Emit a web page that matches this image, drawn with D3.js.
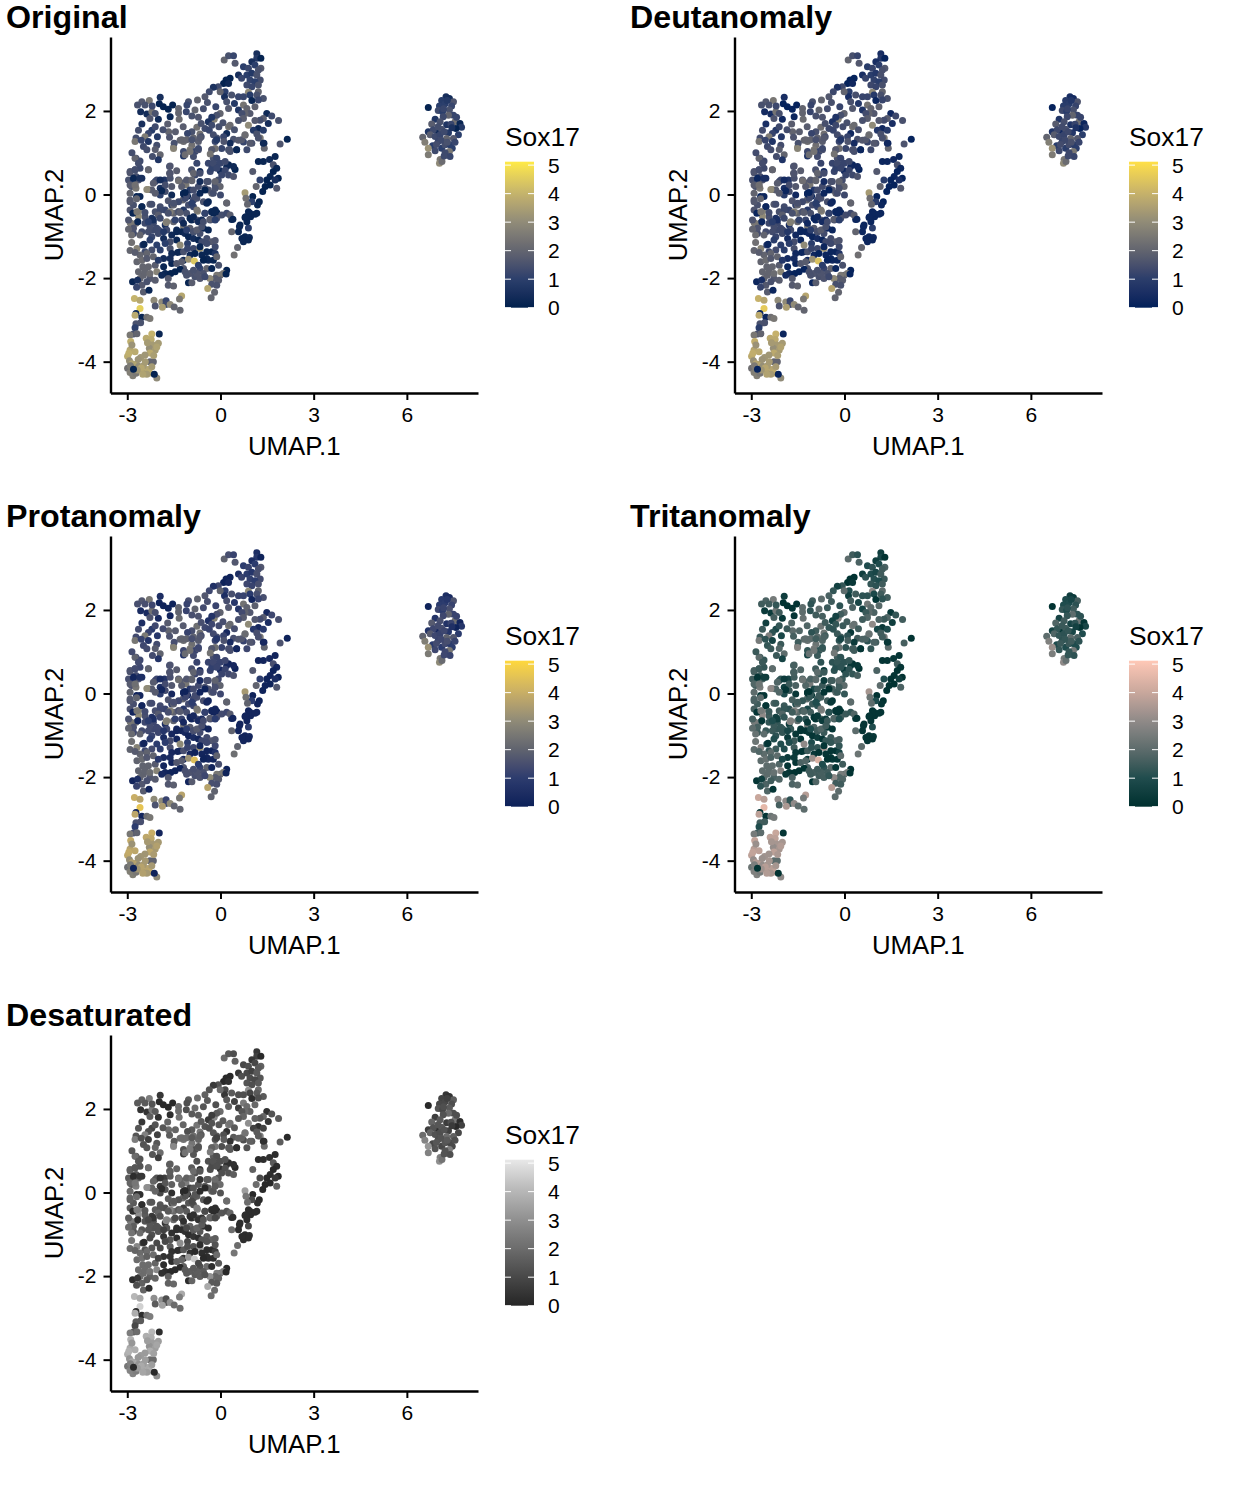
<!DOCTYPE html>
<html><head><meta charset="utf-8">
<script src="https://cdn.jsdelivr.net/npm/d3@7"></script>
<style>html,body{margin:0;padding:0;background:#fff}svg{display:block}text{font-family:"Liberation Sans",Arial,sans-serif;fill:#000}</style>
</head><body><svg id="c" width="1248" height="1497"></svg>
<script>
// cells: [UMAP.1, UMAP.2, Sox17]
const cellsTop=[[0.12,3.22,2],[0.26,3.32,1.5],[0.42,3.32,1.2],[0.47,3.14,1.7],[1.17,3.37,.5],[1.17,3.26,.8],[1.30,3.26,.1],[1.01,3.18,.5],[1.11,3.10,1],[1.30,3.02,1.7],[.74,3.06,1],[.90,3.02,1.2],[1.22,2.98,1.5],[.58,2.86,.5],[.68,2.78,1.2],[.85,2.86,1],[1.01,2.90,.8],[1.17,2.86,1.5],[1.28,2.74,1.4],[.95,2.74,1.1],[1.11,2.70,1],[1.22,2.62,1.5],[.85,2.62,1.3],[1.01,2.58,1.2],[1.22,2.46,2],[.90,2.45,3],[.31,2.78,.1],[.18,2.74,.1],[.10,2.66,.1],[.26,2.66,.3],[-.07,2.58,1.3],[-.23,2.57,.6],[-.36,2.46,1.3],[-.50,2.34,1.7],[-.42,2.20,1.5],[.15,2.46,1],[.13,2.34,.5],[.36,2.38,1.5],[-.01,2.46,2],[.20,2.22,1.5],[.26,2.06,1.7],[.58,2.34,1.2],[.74,2.34,1.2],[.95,2.38,.9],[1.17,2.38,1.5],[1.38,2.30,1.5],[1.01,2.25,.2],[1.22,2.26,1.2],[.74,2.14,2.4],[.85,2.06,2],[.58,2.02,.7],[1.11,2.10,1.9],[.95,1.94,1.7],[.79,1.94,2],[.69,1.94,1.4],[1.49,1.94,.3],[1.65,1.88,1.3],[1.38,1.82,1.8],[1.87,1.77,1.5],[1.54,1.70,.5],[1.27,1.78,1.4],[1.11,1.77,1.7],[.90,1.66,3],[.74,1.82,1.8],[.58,1.77,1.5],[1.22,1.58,.3],[1.38,1.54,.9],[1.06,1.54,.8],[.79,1.42,2],[1.28,1.35,2.5],[1.17,1.45,1.5],[1.01,1.23,1.5],[.74,1.26,1.2],[.42,1.32,1.5],[.58,1.30,1.7],[.85,1.07,1.3],[1.40,1.23,.3],[1.92,1.21,1.6],[2.15,1.32,.1],[1.41,1.11,2]];
const cellsMiddle=[[-.28,1.78,2.5],[-.20,1.80,2.8],[-.01,1.94,2],[-.12,1.90,1.5],[-.28,1.85,.7],[-.39,1.74,.6],[-.50,1.58,1.3],[-.36,1.54,1.2],[-.28,1.66,1.3],[.26,1.62,2.4],[.31,1.66,2.2],[.20,1.46,.3],[.10,1.38,1.2],[-.12,1.35,1.5],[-.23,1.43,1.4],[-.17,1.27,1.2],[.04,1.10,1.2],[-.17,1.10,2.3],[-.28,1.07,2.4],[.26,1.07,1.5],[.52,1.07,.2],[.31,1.03,1.5],[-1.03,2.22,1.5],[-1.08,2.14,1.2],[-.74,2.26,2],[-.82,2.02,2],[-.92,1.88,1.5],[-.71,1.85,1.6],[-.76,1.61,2.3],[-.92,1.50,1.5],[-1.06,1.46,1.2],[-.87,1.35,2],[-1.30,1.30,2],[-1.19,1.27,2.2],[-.66,1.45,2.3],[-.71,1.27,1.8],[-.62,1.38,1.5],[-.92,1.18,2.3],[-.98,1.07,2.5],[-.82,1.03,1.2],[-.71,1.07,1.6],[-1.19,1.03,1.3],[-1.19,.92,.7],[-1.51,1.13,2.8],[-1.49,1.23,1.5],[-1.33,1.80,2.2],[-1.70,1.69,1.8],[-1.67,1.50,2],[-1.64,1.37,1.6],[-2.03,1.38,.8],[-2.00,1.80,.3],[-1.62,1.86,.2],[-2.21,1.54,.9],[-2.32,1.46,1.2],[-2.53,1.69,.5],[-2.64,1.54,1.4],[-2.43,1.38,2.6],[-2.72,1.35,1.4],[-2.75,1.27,2.5],[-2.32,1.27,.7],[-2.48,1.15,1.3],[-2.37,1.07,1.4],[-2.05,1.18,1.4],[-2.10,1.08,1.8],[-1.94,.95,2],[-2.0,.83,.7],[-2.19,.91,1.4],[-2.72,.87,1.4],[-2.59,.80,1.3]];
const cellsBand=[[-2.53,2.22,1.7],[-2.67,2.14,1.5],[-2.29,2.25,2.5],[-2.43,2.14,1.5],[-2.57,1.98,.4],[-2.37,1.93,.4],[-2.21,1.98,2.4],[-2.10,1.94,1.5],[-2.27,1.82,1.6],[-1.94,2.33,.5],[-1.97,2.17,.1],[-1.84,2.10,.1],[-1.68,2.04,.1],[-1.54,2.14,.1],[-1.35,2.06,2],[-1.35,1.95,2]];
const cellsCentre=[[-2.75,.59,1.4],[-2.91,.52,1.6],[-2.59,.63,1.3],[-2.72,.43,1.4],[-2.53,.39,.5],[-2.32,.59,2],[-2.75,.23,1.8],[-2.86,.19,1.5],[-2.72,.15,2.5],[-2.32,.12,3],[-2.21,.11,1.8],[-2.10,.31,1.2],[-1.94,.15,.5],[-1.80,.35,.7],[-2.05,.35,1.3],[-1.94,-.01,1],[-1.57,-.01,.3],[-1.35,.35,1.5],[-1.62,.39,1.5],[-1.78,.07,1.4],[-1.64,.67,1.4],[-1.64,.51,1.8],[-1.41,.57,1.8],[-.93,.59,1.5],[-.66,.55,.4],[-.82,.47,1.3],[-.33,.55,1.2],[-.01,.57,.3],[.26,.71,.2],[.47,.60,.1],[-.23,.75,1],[-.10,.71,1],[-.39,.75,1.2],[-.28,.63,1.1],[-.93,.35,2.3],[-1.19,.28,1.8],[-1.11,.23,2.5],[-.39,.31,1.5],[-.17,.23,1.4],[-.01,.19,2],[-.28,.03,2],[-.39,.11,1.6],[-.71,.19,1.4],[-.98,.11,.8],[-1.19,.03,.1],[-1.06,-.04,.1],[-.87,-.13,1.3],[-1.21,-.13,2],[-1.57,-.25,1.1],[-.74,-.40,2.8],[.20,-.20,1.8],[-.39,-.17,.2]];
const cellsFill=[[-2.75,.87,2],[-2.64,.75,1.4],[-2.96,.35,1.5],[-2.80,.35,1],[-2.64,.35,1.6],[-2.91,.03,2],[-2.70,-.05,.2],[-2.91,-.13,1.8],[-2.80,-.25,1.5],[-2.53,-.29,.5],[-2.27,-.23,1.7],[-1.94,-.29,1.4],[-1.78,-.37,1.2],[-2.10,-.41,1.5],[-2.64,-.41,2.8],[-2.43,-.53,1.5],[-2.21,-.57,.6],[-2.91,-.67,2.5],[-2.72,-.69,2.2],[-2.43,-.69,1.3],[-2.16,-.69,1.3],[-1.99,-.85,1.3],[-1.78,-.73,.5],[-1.75,-.67,3],[-1.51,-.45,2],[-1.35,-.41,2],[-1.19,-.37,.8],[-1.51,-.25,2],[-1.35,-.17,1.3],[-1.14,-.09,1.3],[-.76,-.09,1.5],[-1.03,-.25,1.4],[-.87,-.29,1.2],[-.55,-.17,1.5],[-.50,-.45,1.3],[-.28,-.41,.2],[-.12,-.43,.1],[.04,-.49,1.4],[.36,-.60,.2],[-.93,-.61,.2],[-.76,-.61,1.5],[-.60,-.61,.4],[-.33,-.61,1.4],[-.12,-.57,1.5],[-1.25,-.61,1.2],[-1.51,-.65,2],[-1.19,-.77,2.5],[-.98,-.81,1.8],[-1.41,-.85,.3],[-.71,-.85,2.5],[-.55,-.81,.3],[-.87,-.89,1.5],[-2.16,-.85,1.3],[-2.53,-.89,1.4],[-2.80,-.93,1.4],[-1.25,1.31,2],[-1.09,1.31,2],[-.92,1.31,1.5],[-.66,1.35,1.7],[-1.51,1.10,2.8],[-.71,1.10,1.3],[-.87,.91,1.4],[-1.14,.95,2.2],[-.98,1.03,2.4],[-.28,1.07,1.7],[-.23,.87,1.5],[-.33,.97,2.4],[-.12,.87,1.2],[-.01,.75,1.2],[.20,.67,.3],[-.76,.75,1.2],[.15,.79,1.3],[.31,1.23,.4],[.11,1.27,1.6],[-.12,1.31,.8],[.52,1.07,.2],[.29,1.07,1.5],[.68,1.31,1.7],[.95,1.23,1.7],[1.38,1.23,.3],[.79,1.43,2.2],[1.22,1.35,1.5],[-.66,.31,.4],[-1.25,.19,1.8],[-.07,.35,1.4],[-.23,.03,1.4],[-.50,.15,1.6],[-.82,-.05,1.4],[-.17,-.37,.3],[.20,-.45,1.3],[-2.91,.55,1.6],[-2.75,.59,1.4],[-2.80,.39,.2],[-2.59,.39,.5],[-2.91,.23,1.8],[-2.75,.23,2.3],[-2.32,.59,2],[-2.37,.12,3],[-2.59,-.05,.2],[-2.70,-.10,2],[-2.91,-.17,1.7],[-2.53,-.29,.2],[-2.21,-.23,1.4],[-2.64,-.52,3],[-2.91,-.37,1.6],[-1.94,-.37,1.3],[-2.0,-.49,1.8],[-1.62,-.41,2.7],[-1.35,-.41,1.5],[-1.09,-.45,1.5],[-1.68,-.15,1.6],[-1.51,-.21,1.5],[-1.19,.01,.2],[-1.09,-.03,1.3],[-.92,-.21,1],[-.87,.11,1.4],[-.66,.03,.2],[-.50,.11,.1],[-.44,.31,1.5],[-.17,.31,2],[-.17,.15,1.5],[0,-.01,1.3],[.20,-.2,2],[-.76,-.37,2.5],[-.44,-.21,.3],[-.23,-.45,.2],[-.87,.51,2],[-.66,.51,1.4],[-.23,.75,1.3],[-.12,.63,1.2],[.42,.67,.3],[.15,.58,1.2],[.04,.47,1.2],[.26,.47,1.3],[.42,.43,1.6],[-1.62,.51,1.6],[-1.62,.68,1.6],[-2.16,.27,1.8],[-1.94,.35,.4],[-1.78,.23,1.4],[-1.57,.19,1.7],[-1.35,.33,2.3],[-1.09,.35,1.7],[-.92,.33,2],[-1.14,.05,.1],[-1.89,.09,.2],[-2.10,.03,1.8],[-2.21,-1.33,1.4],[-2.43,-1.37,1.3],[-2.59,-1.45,2],[-2.69,-1.61,2],[-2.10,-1.69,1.8],[-2.48,-1.93,2],[-2.27,-2.01,1.7],[-2.59,-2.01,2],[-1.19,-1.57,.3],[-1.57,-1.65,.2],[-.87,-1.29,1.3],[-.98,-1.45,.3],[-.28,-1.37,.2],[-.39,-1.57,.3],[-.23,-1.57,.2],[-.66,-1.77,1.2],[-.44,-1.77,2],[-.01,-1.93,2],[-1.19,-1.77,1.7],[-.98,-1.89,1.6],[-.82,-1.97,1.5],[-2.27,-.77,1.4],[-2.05,-.81,1.3],[-1.73,-.85,1.3],[-1.57,-.97,.3],[-1.41,-1.09,.2],[-.87,-.89,1.5],[-.66,-.93,1.4],[-.44,-1.05,1.4],[-.28,-1.13,1.7],[-.17,-1.25,1.3],[-1.83,-1.05,.4],[-1.62,-1.13,1.4],[-2.20,2.12,1.3],[-1.10,1.98,1.2],[-.55,2.05,1.4],[-.15,2.10,1.2],[.45,2.18,.8],[-.05,1.62,1.4],[-.62,1.70,1.5],[-1.20,1.62,1.8],[-1.45,1.50,1.8],[-1.85,1.55,1.4],[-2.10,1.62,1.3],[-2.55,1.30,1.2],[-2.85,1.00,1.4],[.08,1.72,1.5],[.45,1.55,1.5]];
const cellsLower=[[-2.82,-.45,.2],[-2.69,-.41,2.5],[-2.43,-.43,1.4],[-2.89,-.69,2.5],[-2.66,-.65,.2],[-2.96,-.61,1.6],[-2.80,-.81,1.6],[-2.59,-.97,2],[-2.86,-.97,2.2],[-2.96,-.83,2],[-2.86,-1.15,2.3],[-2.69,-1.29,2.8],[-2.91,-1.34,2],[-2.50,-1.21,.8],[-2.46,-1.19,.2],[-2.37,-1.41,2],[-2.53,-1.57,2.2],[-2.75,-1.39,1.8],[-2.16,-.61,.5],[-2.32,-.65,1],[-1.94,-.57,1.3],[-2.32,-.89,1.4],[-2.21,-1.01,1.2],[-2.0,-.93,1.3],[-1.83,-.89,.8],[-2.27,-1.09,1],[-2.05,-1.21,1],[-1.78,-1.17,1],[-1.62,-1.29,1.5],[-1.94,-1.33,1],[-2.37,-1.53,1.7],[-2.16,-1.49,2],[-1.83,-1.53,.4],[-2.0,-1.57,.8],[-1.57,-1.41,.3],[-1.62,-1.53,.4],[-2.50,-1.73,2],[-2.32,-1.73,2],[-2.64,-1.85,2],[-2.43,-1.85,2],[-2.27,-1.89,2.2],[-2.05,-1.85,2.8],[-1.83,-1.73,.2],[-1.78,-1.89,.2],[-1.89,-1.93,.3],[-1.60,-1.89,.1],[-1.46,-1.85,.1],[-1.30,-1.79,.1],[-1.41,-1.65,1.7],[-1.25,-1.61,1.8],[-2.10,-2.05,1.8],[-1.68,-2.01,1.7],[-2.83,-2.09,.2],[-2.67,-2.05,.5],[-2.53,-2.17,1.7],[-2.48,-2.33,1.8],[-2.30,-2.29,.2],[-2.70,-2.22,1.2],[-2.37,-2.09,1.5],[-1.68,-2.17,1.7],[-1.51,-2.19,1.9],[-1.30,-1.37,.3],[-1.38,-1.39,.2],[-1.19,-1.37,1.5],[-1.30,-1.21,3],[-1.06,-1.17,1],[-1.06,-1.29,1.2],[-1.41,-.89,.2],[-1.25,-.89,.2],[-1.14,-.93,.3],[-1.03,-1.01,.2],[-.87,-1.05,.4],[-.71,-1.09,.2],[-.98,-.57,.2],[-.87,-.53,.3],[-.71,-.65,.4],[-1.09,-.85,1],[-.76,-.85,1.8],[-.60,-.77,1.5],[-.39,-.85,.2],[-.55,-.65,1.4],[-.34,-.59,1.8],[-.17,-.61,1],[-.28,-.41,.2],[-.17,-.41,.2],[-.50,-.45,1.1],[-1.30,-.43,1.8],[-1.68,-.45,1.5],[-1.46,-.61,1.1],[-1.73,-.65,2.7],[-1.19,-.69,.3],[-.60,-1.13,1.3],[-.44,-1.17,1.3],[-.17,-1.10,1.6],[-.66,-1.29,3.4],[-.66,-1.25,.2],[-.44,-1.37,.2],[-.17,-1.41,.7],[-.12,-1.49,2],[-.82,-1.41,.1],[-.60,-1.45,.2],[-.44,-1.53,.2],[-.55,-1.57,.1],[-1.03,-1.55,3.2],[-.84,-1.59,4.4],[-.71,-1.69,1],[-.28,-1.77,.2],[-.06,-1.69,1.5],[.20,-1.81,.1],[.09,-1.89,2.5],[.18,-1.90,.1],[-.12,-1.93,2.5],[-.17,-2.01,1.8],[-.06,-2.05,1.8],[-.34,-2.01,3],[-.55,-1.89,1.5],[-.76,-1.89,1.6],[-.87,-1.81,1.5],[-1.14,-1.85,1.5],[-1.09,-1.93,1.5],[-1.03,-2.11,.2],[-.92,-2.11,1.8],[-.66,-2.01,1.6],[-.50,-1.97,1.3],[-.12,-2.17,1.5],[-.28,-2.15,1.5],[-.41,-2.25,3.7],[-.19,-2.34,2],[-.30,-2.47,2]];
const cellsArm=[[1.22,.79,.2],[1.38,.79,.2],[1.58,.84,.3],[1.76,.91,.2],[1.70,.71,1.5],[1.81,.63,.2],[1.70,.55,.1],[1.60,.43,.2],[1.86,.39,.1],[1.49,.35,.1],[1.76,.35,.5],[1.27,.35,1],[1.04,.55,1.7],[1.15,.19,2],[1.60,.23,.1],[1.81,.15,1.7],[1.44,.19,.1],[1.36,.07,.1],[.79,.04,3.4],[.82,-.09,2.3],[1.04,-.05,.1],[1.25,-.17,.1],[1.19,-.25,.2],[1.01,-.17,1],[.87,-.23,2],[.90,-.41,.2],[.79,-.55,.2],[1.17,-.45,.2],[.97,-.53,.2],[.61,-.77,.3],[.90,-.80,1],[.58,-.89,.2],[.79,-1.01,.2],[.93,-1.03,.3],[.44,-1.45,2.3],[.55,-1.27,2],[.74,-1.13,.2],[.90,-1.09,.2],[.69,-1.05,.2],[.36,-.89,2],[.31,-.49,1.8],[.40,-.59,.2],[.63,-.73,.2],[.85,-.65,.2],[.95,-.45,.2],[1.11,-.47,.2],[.81,-.53,.2]];
const cellsTail=[[-2.77,-2.49,4],[-2.59,-2.53,3.7],[-2.14,-2.53,3],[-1.89,-2.57,3],[-1.75,-2.54,1.2],[-1.76,-2.63,1.3],[-1.62,-2.63,3],[-1.87,-2.70,3.5],[-2.10,-2.67,1.6],[-1.49,-2.69,2],[-1.30,-2.77,2],[-1.25,-2.43,3.7],[-1.32,-2.50,2.5],[-2.59,-2.73,4.6],[-2.72,-2.85,.2],[-2.75,-2.89,3.8],[-2.53,-2.94,.2],[-2.37,-2.94,2.3],[-2.27,-2.97,2.5],[-2.57,-3.07,1.5],[-2.72,-3.09,1.5],[-2.75,-3.19,1],[-2.80,-3.34,1.5],[-2.91,-3.36,2.5],[-2.69,-3.33,2],[-1.97,-3.34,.2],[-2.21,-3.34,4],[-2.39,-3.44,3.8],[-2.23,-3.47,3.8],[-2.89,-3.52,3.9],[-2.0,-3.56,3.4],[-2.18,-3.60,3.4],[-2.29,-3.68,3.1],[-2.10,-3.72,3.4],[-2.27,-3.79,3.8],[-2.43,-3.84,3.3],[-2.57,-3.90,3.3],[-2.91,-3.72,3.7],[-2.75,-3.76,3.8],[-2.99,-3.87,3.8],[-2.93,-3.98,3.1],[-2.72,-4.06,3.9],[-2.27,-4.00,2],[-2.16,-4.00,2],[-2.64,-4.11,3.1],[-2.99,-4.16,2.3],[-2.91,-4.26,2.7],[-2.82,-4.34,2.7],[-2.72,-4.28,2.5],[-2.48,-4.26,3.4],[-2.34,-4.19,3.7],[-2.21,-4.12,3.4],[-2.27,-4.27,3.8],[-2.37,-4.30,3.4],[-2.05,-4.39,3],[-2.59,-4.20,3.4],[-2.48,-4.10,3.4],[-2.85,-4.05,3.6],[-2.65,-3.95,3.2],[-2.55,-4.15,3.7],[-2.42,-4.0,3.4],[-2.15,-3.85,3.5],[-2.05,-3.65,3.6],[-2.35,-3.55,3.4],[-2.85,-3.6,3.2],[-2.95,-3.8,3.9],[-2.68,-4.2,3.3],[-2.5,-4.3,3.6],[-2.9,-4.1,2.6],[-2.80,-4.18,.1],[-2.13,-4.30,.1]];
const cellsIsland=[[6.69,2.08,.1],[7.26,2.34,.5],[7.37,2.30,.4],[7.12,2.25,.9],[7.50,2.22,1.6],[7.44,2.12,1.2],[7.05,2.12,1],[7.23,2.17,1],[7.01,2.01,1.3],[7.15,1.98,1],[7.37,2.02,1.5],[7.50,1.90,1.2],[7.34,1.90,2],[7.17,1.86,1.3],[6.91,1.80,.7],[6.80,1.69,1.8],[7.07,1.74,1.5],[7.28,1.67,.7],[7.55,1.74,2.3],[7.71,1.70,.2],[7.76,1.61,.8],[7.58,1.58,.1],[6.69,1.50,.7],[6.96,1.53,.3],[7.12,1.56,1.5],[7.34,1.48,.8],[6.85,1.55,1.3],[6.75,1.43,1.8],[6.91,1.39,1.3],[7.07,1.43,1.2],[7.66,1.43,1],[7.50,1.34,1.7],[7.28,1.34,2],[6.51,1.37,2],[6.58,1.25,2.7],[7.01,1.27,1.2],[6.83,1.17,1],[6.69,1.11,3.2],[6.69,.95,2.6],[6.91,1.05,1.3],[7.12,1.11,1],[7.23,1.19,1.4],[7.39,1.19,1],[7.46,1.11,1],[7.37,1.03,2.5],[7.23,1.00,1.3],[7.39,.91,1.2],[7.07,.84,2.5],[7.05,.75,3],[7.13,.79,2.2],[7.42,1.68,1.2],[7.20,1.50,1.3],[7.45,1.60,.6],[7.00,1.62,1.4],[7.60,1.85,1.2],[7.18,2.05,1.2],[7.30,2.25,.8],[7.10,1.30,1.3],[7.30,1.25,1.5],[6.95,1.20,1.4],[7.55,1.25,1.2],[7.20,.92,1.3]];

const panelNames=["Original","Deutanomaly","Protanomaly","Tritanomaly","Desaturated"];
const xTicks=[-3,0,3,6], yTicks=[-4,-2,0,2], legendTicks=[0,1,2,3,4,5];
const colourStops=[0,1,2,3,4,5.12];
const palOriginal=["#00204d","#2b3f6c","#63656f","#908b79","#c4b36c","#ffea46"];
const palDeutan=["#00205a","#2a3d6b","#62646f","#908b78","#c6b16a","#ffe046"];
const palProtan=["#0b2058","#2c3c6e","#60636f","#8f8b78","#c8ae66","#ffd83c"];
const palTritan=["#00302f","#1f4c4d","#5d6c6c","#8f8a88","#c8a79c","#ffc8b6"];
const palDesat=["#262626","#484848","#6c6c6c","#8f8f8f","#b6b6b6","#e8e8e8"];
const palettes=[palOriginal,palDeutan,palProtan,palTritan,palDesat];

const cells=[].concat(cellsTop,cellsMiddle,cellsBand,cellsCentre,cellsFill,cellsLower,cellsArm,cellsTail,cellsIsland);

const svg=d3.select("#c");
const defs=svg.append("defs");
const PW=367.5,PH=356;
const x=d3.scaleLinear().domain([-3.54,8.29]).range([0,PW]);
const y=d3.scaleLinear().domain([-4.75,3.77]).range([PH,0]);
const legendY=d3.scaleLinear().domain([0,5.12]).range([146,0]);
const tickText=d=>d<0?"-"+(-d):d;

panelNames.forEach((name,i)=>{
  const ox=110.5+(i%2)*624, oy=37+Math.floor(i/2)*499;
  const colour=d3.scaleLinear().domain(colourStops).range(palettes[i]).interpolate(d3.interpolateLab);
  svg.append("text").attr("x",ox-104.5).attr("y",oy-9).attr("font-size",32.2).attr("font-weight","bold").text(name);
  const g=svg.append("g").attr("transform",`translate(${ox},${oy})`);
  g.append("g").selectAll("circle").data(cells).join("circle")
    .attr("cx",d=>x(d[0])).attr("cy",d=>y(d[1])).attr("r",3.5).attr("fill",d=>colour(d[2]));
  const ax=g.append("g").attr("transform",`translate(0,${PH})`).call(d3.axisBottom(x).tickValues(xTicks).tickFormat(tickText).tickSize(7).tickSizeOuter(0).tickPadding(7));
  const ay=g.append("g").call(d3.axisLeft(y).tickValues(yTicks).tickFormat(tickText).tickSize(7).tickSizeOuter(0).tickPadding(7));
  [ax,ay].forEach(a=>{
    a.selectAll("path").attr("stroke","#000").attr("stroke-width",2.4);
    a.selectAll("line").attr("stroke","#000").attr("stroke-width",2);
    a.selectAll("text").attr("font-size",21).attr("font-family","Liberation Sans");
  });
  g.append("text").attr("x",PW/2).attr("y",PH+62).attr("text-anchor","middle").attr("font-size",25.8).text("UMAP.1");
  g.append("text").attr("transform",`translate(-47.5,${PH/2}) rotate(-90)`).attr("text-anchor","middle").attr("font-size",25.8).text("UMAP.2");
  // legend
  const lx=ox+394.5, ly=oy+124.7;
  const lg=svg.append("g").attr("transform",`translate(${lx},${ly})`);
  lg.append("text").attr("x",0).attr("y",-16).attr("font-size",26.4).text("Sox17");
  const id="grad"+i;
  const gr=defs.append("linearGradient").attr("id",id).attr("x1",0).attr("x2",0).attr("y1",1).attr("y2",0);
  d3.range(0,21).forEach(k=>{const v=k/20*5.12;gr.append("stop").attr("offset",k/20).attr("stop-color",colour(v));});
  lg.append("rect").attr("width",29).attr("height",146).attr("fill",`url(#${id})`);
  legendTicks.forEach(t=>{
    const yy=legendY(t);
    lg.append("line").attr("x1",0).attr("x2",6).attr("y1",yy).attr("y2",yy).attr("stroke","#fff").attr("stroke-width",1);
    lg.append("line").attr("x1",23).attr("x2",29).attr("y1",yy).attr("y2",yy).attr("stroke","#fff").attr("stroke-width",1);
    lg.append("text").attr("x",43).attr("y",yy+7.5).attr("font-size",21).text(t);
  });
});
</script></body></html>
